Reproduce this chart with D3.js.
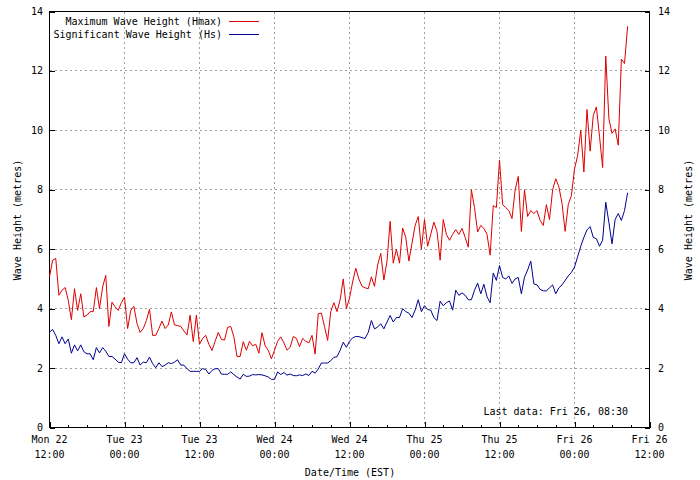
<!DOCTYPE html>
<html><head><meta charset="utf-8">
<script src="https://cdn.jsdelivr.net/npm/d3@7/dist/d3.min.js"></script>
<style>body{margin:0;background:#fff}svg text{font-family:"DejaVu Sans Mono",monospace;font-size:10px;fill:#000}</style>
</head><body><svg id="c" width="700" height="480"></svg>
<script>
// ---- data (half-hourly readings from Mon 22 12:00 to Fri 26 08:30) ----
const startTime = "2024-01-22T12:00:00";
const stepMinutes = 30;
const endTime = "2024-01-26T12:00:00";
const seriesNames = ["Maximum Wave Height (Hmax)", "Significant Wave Height (Hs)"];
const hmax = [5.07,5.63,5.69,4.45,4.62,4.71,4.28,3.63,4.67,3.94,4.5,3.72,3.78,3.9,3.9,4.71,4.0,4.73,5.12,3.4,4.22,4.06,3.94,4.2,4.39,
3.33,3.94,4.08,3.5,3.2,3.33,3.6,3.98,3.1,3.1,3.33,3.58,
3.33,3.45,3.89,3.45,3.43,3.4,3.25,3.11,3.78,2.89,3.78,2.8,3.0,3.1,2.8,2.59,2.9,3.2,2.97,2.94,3.37,3.4,3.05,2.39,2.39,2.89,2.6,2.9,2.75,2.8,2.5,3.19,2.75,2.6,2.31,2.6,2.9,3.05,2.85,
2.6,2.7,3.06,3.0,2.72,3.0,2.9,2.85,3.1,2.47,3.83,3.85,3.4,2.93,3.9,4.2,3.9,4.3,5.0,4.0,4.35,4.9,5.36,5.0,4.75,4.7,4.67,5.07,4.75,5.47,5.86,4.96,5.6,6.94,5.53,6.0,5.53,6.71,6.4,5.6,
6.2,6.8,7.1,6.0,7.0,6.1,6.5,6.91,6.6,5.63,7.0,6.5,6.3,6.5,6.66,6.5,6.7,6.4,6.07,8.0,7.4,6.58,6.8,6.7,6.5,5.8,7.47,7.4,9.0,7.5,7.4,7.3,7.03,8.0,8.45,6.6,
8.0,7.1,7.3,7.2,7.3,6.97,6.8,7.5,7.0,8.0,8.37,8.1,7.55,6.6,7.5,7.8,8.7,9.15,10.0,8.6,10.7,9.3,10.5,10.79,9.8,8.75,12.5,10.4,9.9,10.05,9.5,12.4,12.25,13.5];
const hs = [3.21,3.3,3.1,2.82,3.05,2.82,2.98,2.5,2.78,2.58,2.78,2.55,2.48,2.48,2.28,2.69,2.51,2.69,2.57,2.39,
2.39,2.3,2.2,2.18,2.48,2.3,2.18,2.18,2.35,2.1,2.2,2.18,2.37,2.15,2.01,2.18,2.05,2.1,2.18,2.15,
2.2,2.28,2.1,2.1,1.98,1.89,1.89,1.89,1.89,1.98,1.95,1.8,1.92,1.98,1.98,1.8,1.79,1.79,1.87,1.78,
1.7,1.63,1.79,1.72,1.73,1.78,1.77,1.78,1.77,1.74,1.7,1.62,1.62,1.87,1.78,1.85,
1.76,1.8,1.75,1.74,1.77,1.75,1.8,1.75,1.89,1.83,1.97,2.17,2.17,2.17,2.25,2.36,2.38,2.6,2.87,2.7,
2.9,3.02,3.06,3.06,3.02,3.0,3.2,3.6,3.32,3.38,3.49,3.32,3.55,3.77,3.55,3.7,3.7,4.0,3.9,3.85,
3.7,3.95,4.3,3.9,4.1,3.97,3.95,3.7,3.6,4.25,4.1,4.2,4.26,3.95,4.62,4.45,4.53,4.45,4.3,4.3,
4.62,4.86,4.5,4.82,4.4,4.2,5.2,4.95,5.45,5.05,5.0,5.1,4.85,5.0,5.05,4.5,
5.06,5.3,5.6,4.83,4.8,4.65,4.6,4.6,4.7,4.8,4.5,4.7,4.8,4.95,5.1,5.22,5.4,5.75,
6.1,6.4,6.65,6.76,6.4,6.35,6.1,6.3,7.58,6.9,6.18,7.0,7.2,6.97,7.3,7.9];
const yTicks = [0,2,4,6,8,10,12,14];
const xTickHours = 12, xMinorHours = 3;
const lastDataLabel = "Last data: Fri 26, 08:30";
const xTitle = "Date/Time (EST)";
const yTitle = "Wave Height (metres)";

// ---- chart ----
const parse = d3.timeParse("%Y-%m-%dT%H:%M:%S");
const t0 = parse(startTime), t1 = parse(endTime);
const times = hmax.map((_, i) => d3.timeMinute.offset(t0, i * stepMinutes));

const svg = d3.select("#c");
const L = 49.5, R = 649.5, T = 11.5, B = 427.5;
const x = d3.scaleTime().domain([t0, t1]).range([L, R]);
const y = d3.scaleLinear().domain([0, 14]).range([B, T]);

const majors = d3.timeHour.every(xTickHours).range(t0, d3.timeHour.offset(t1, 1));
const minors = d3.timeHour.every(xMinorHours).range(t0, t1).filter(t => (t - t0) % (xTickHours * 3600e3) !== 0);

// grid
const grid = svg.append("g").attr("stroke", "#a0a0a0").attr("stroke-width", 1).attr("stroke-dasharray", "2,3").attr("shape-rendering", "crispEdges");
grid.selectAll(".gx").data(majors.slice(1, -1)).join("line")
  .attr("x1", d => Math.round(x(d)) + 0.5 - 1).attr("x2", d => Math.round(x(d)) + 0.5 - 1)
  .attr("y1", T).attr("y2", B);
grid.selectAll(".gy").data(yTicks.slice(1, -1)).join("line")
  .attr("x1", L).attr("x2", R)
  .attr("y1", d => Math.round(y(d) - 0.5) + 0.5).attr("y2", d => Math.round(y(d) - 0.5) + 0.5);

// axes ticks (inward)
const axB = d3.axisBottom(x).tickValues(majors).tickSize(-6).tickFormat("");
const gB = svg.append("g").attr("transform", `translate(0,${B})`).call(axB);
const axBm = d3.axisBottom(x).tickValues(minors).tickSize(-3).tickFormat("");
const gBm = svg.append("g").attr("transform", `translate(0,${B})`).call(axBm);
const axL = d3.axisLeft(y).tickValues(yTicks).tickSize(-5).tickFormat("");
const gL = svg.append("g").attr("transform", `translate(${L},0)`).call(axL);
const axR = d3.axisRight(y).tickValues(yTicks).tickSize(-5).tickFormat("");
const gR = svg.append("g").attr("transform", `translate(${R},0)`).call(axR);
[gB, gBm, gL, gR].forEach(g => { g.select(".domain").remove(); g.selectAll("line").attr("stroke", "#000").attr("shape-rendering", "crispEdges"); });

// border
svg.append("rect").attr("x", L).attr("y", T).attr("width", R - L).attr("height", B - T)
  .attr("fill", "none").attr("stroke", "#000").attr("shape-rendering", "crispEdges");

// tick labels
svg.append("g").selectAll("text").data(yTicks).join("text")
  .attr("x", 43).attr("y", d => y(d)).attr("dy", "0.35em").attr("text-anchor", "end").text(d => d);
svg.append("g").selectAll("text").data(yTicks).join("text")
  .attr("x", 658).attr("y", d => y(d)).attr("dy", "0.35em").attr("text-anchor", "start").text(d => d);
const fDay = d3.timeFormat("%a %d"), fHour = d3.timeFormat("%H:%M");
const xl = svg.append("g").selectAll("text").data(majors).join("text")
  .attr("text-anchor", "middle");
xl.append("tspan").attr("x", d => x(d)).attr("y", 443).text(d => fDay(d));
xl.append("tspan").attr("x", d => x(d)).attr("y", 458).text(d => fHour(d));

// titles
svg.append("text").attr("x", 350).attr("y", 476).attr("text-anchor", "middle").text(xTitle);
svg.append("text").attr("transform", "translate(21,220) rotate(-90)").attr("text-anchor", "middle").text(yTitle);
svg.append("text").attr("transform", "translate(692,220) rotate(-90)").attr("text-anchor", "middle").text(yTitle);
svg.append("text").attr("x", 628).attr("y", 415).attr("text-anchor", "end").text(lastDataLabel);

// lines
const colors = ["#e00000", "#000090"];
const line = d3.line().x((d, i) => x(times[i])).y(d => y(d));
[hmax, hs].forEach((s, k) => {
  svg.append("path").datum(s).attr("d", line).attr("fill", "none")
    .attr("stroke", colors[k]).attr("stroke-width", 1);
});

// legend
const lg = svg.append("g");
seriesNames.forEach((n, k) => {
  const yy = 21.5 + k * 13;
  lg.append("text").attr("x", 222).attr("y", yy + 3.5).attr("text-anchor", "end").text(n);
  lg.append("line").attr("x1", 229).attr("x2", 259).attr("y1", yy).attr("y2", yy).attr("stroke", colors[k]);
});
</script></body></html>
